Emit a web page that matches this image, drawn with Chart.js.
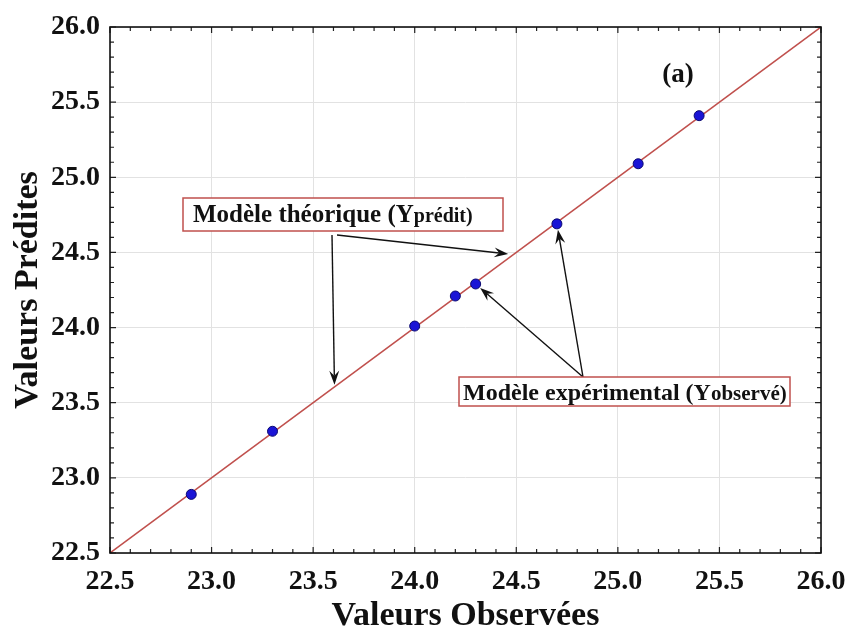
<!DOCTYPE html>
<html>
<head>
<meta charset="utf-8">
<script src="https://cdn.jsdelivr.net/npm/chart.js@4.4.1/dist/chart.umd.min.js"></script>
<style>
  html, body { margin: 0; padding: 0; background: #ffffff; }
  #wrap { width: 849px; height: 633px; }
</style>
</head>
<body>
<div id="wrap"><canvas id="c" width="849" height="633"></canvas></div>
<script>
// Observed vs predicted values
const observed  = [22.9, 23.3, 24.0, 24.2, 24.3, 24.7, 25.1, 25.4];
const predicted = [22.89, 23.31, 24.01, 24.21, 24.29, 24.69, 25.09, 25.41];

// Ideal fit line (y = x) across the axis range
const fitX = [22.5, 26.0];
const fitY = [22.5, 26.0];

// Axis range and tick spacing
const axisMin = 22.5;
const axisMax = 26.0;
const majorStep = 0.5;
const minorStep = 0.1;

const SERIF = '"Liberation Serif", "Times New Roman", serif';
const RED = '#c0504d';

const pointData = observed.map((x, i) => ({ x, y: predicted[i] }));
const lineData = fitX.map((x, i) => ({ x, y: fitY[i] }));

function arrow(ctx, x1, y1, x2, y2) {
  const ang = Math.atan2(y2 - y1, x2 - x1);
  const len = 14, half = 5, notch = 9;
  ctx.beginPath();
  ctx.moveTo(x1, y1);
  ctx.lineTo(x2 - Math.cos(ang) * notch, y2 - Math.sin(ang) * notch);
  ctx.stroke();
  const bx = x2 - Math.cos(ang) * len, by = y2 - Math.sin(ang) * len;
  const nx = -Math.sin(ang), ny = Math.cos(ang);
  ctx.beginPath();
  ctx.moveTo(x2, y2);
  ctx.lineTo(bx + nx * half, by + ny * half);
  ctx.lineTo(x2 - Math.cos(ang) * notch, y2 - Math.sin(ang) * notch);
  ctx.lineTo(bx - nx * half, by - ny * half);
  ctx.closePath();
  ctx.fill();
}

function labelBox(ctx, left, top, w, h, parts, textX, baseline) {
  ctx.save();
  ctx.fillStyle = '#ffffff';
  ctx.fillRect(left, top, w, h);
  ctx.strokeStyle = RED;
  ctx.lineWidth = 1.5;
  ctx.strokeRect(left, top, w, h);
  ctx.fillStyle = '#111111';
  ctx.textBaseline = 'alphabetic';
  ctx.textAlign = 'left';
  let x = textX;
  for (const p of parts) {
    ctx.font = 'bold ' + p.size + 'px ' + SERIF;
    ctx.fillText(p.text, x, baseline);
    x += ctx.measureText(p.text).width;
  }
  ctx.restore();
}

const annotations = {
  id: 'annotations',
  afterDatasetsDraw(chart) {
    const { ctx, scales: { x, y } } = chart;
    const px = v => x.getPixelForValue(v);
    const py = v => y.getPixelForValue(v);

    ctx.save();
    ctx.strokeStyle = '#111111';
    ctx.fillStyle = '#111111';
    ctx.lineWidth = 1.4;

    // arrows from the theoretical-model label to the fit line
    arrow(ctx, 332, 235, px(23.605), py(23.62));
    arrow(ctx, 337, 235, px(24.46), py(24.49));

    // arrows from the experimental-model label to two observed points
    const tail = { x: 583, y: 377 };
    [4, 5].forEach(i => {
      const cx = px(observed[i]), cy = py(predicted[i]);
      const dx = tail.x - cx, dy = tail.y - cy;
      const d = Math.hypot(dx, dy);
      arrow(ctx, tail.x, tail.y, cx + dx / d * 6, cy + dy / d * 6);
    });
    ctx.restore();

    labelBox(ctx, 183, 198, 320, 33,
      [{ text: 'Modèle théorique (Y', size: 25 }, { text: 'prédit)', size: 20 }],
      193, 222);
    labelBox(ctx, 459, 377, 331, 29,
      [{ text: 'Modèle expérimental (Y', size: 24 }, { text: 'observé)', size: 21 }],
      463, 400);

    ctx.save();
    ctx.font = 'bold 27px ' + SERIF;
    ctx.fillStyle = '#111111';
    ctx.textAlign = 'center';
    ctx.textBaseline = 'middle';
    ctx.fillText('(a)', 678, 75);
    ctx.restore();
  },
  afterDraw(chart) {
    const { ctx, chartArea: a, scales: { x, y } } = chart;
    ctx.save();
    ctx.strokeStyle = '#222222';
    ctx.lineWidth = 1.2;
    const n = Math.round((axisMax - axisMin) / minorStep);
    for (let i = 0; i <= n; i++) {
      const v = axisMin + i * minorStep;
      const major = i % Math.round(majorStep / minorStep) === 0;
      const len = major ? 6 : 4;
      const xp = x.getPixelForValue(v), yp = y.getPixelForValue(v);
      ctx.beginPath();
      ctx.moveTo(xp, a.bottom); ctx.lineTo(xp, a.bottom - len);
      ctx.moveTo(xp, a.top); ctx.lineTo(xp, a.top + len);
      ctx.moveTo(a.left, yp); ctx.lineTo(a.left + len, yp);
      ctx.moveTo(a.right, yp); ctx.lineTo(a.right - len, yp);
      ctx.stroke();
    }
    ctx.strokeStyle = '#111111';
    ctx.lineWidth = 1.6;
    ctx.strokeRect(a.left, a.top, a.right - a.left, a.bottom - a.top);
    ctx.restore();
  }
};

new Chart(document.getElementById('c'), {
  type: 'scatter',
  data: {
    datasets: [
      {
        type: 'line',
        data: lineData,
        borderColor: RED,
        borderWidth: 1.5,
        pointRadius: 0,
        fill: false,
        order: 2
      },
      {
        data: pointData,
        backgroundColor: '#1a14d6',
        borderColor: '#0a0870',
        borderWidth: 1,
        pointRadius: 5,
        order: 1
      }
    ]
  },
  options: {
    responsive: false,
    animation: false,
    devicePixelRatio: 1,
    layout: { padding: { top: 27, right: 28, left: 0, bottom: 0 } },
    plugins: { legend: { display: false }, tooltip: { enabled: false } },
    scales: {
      x: {
        type: 'linear',
        min: axisMin, max: axisMax,
        afterFit: s => { s.height = 80; s.paddingLeft = 0; s.paddingRight = 0; },
        ticks: {
          stepSize: majorStep,
          padding: 12,
          color: '#111111',
          font: { family: SERIF, size: 28, weight: 'bold' },
          callback: v => v.toFixed(1)
        },
        grid: { color: '#e2e2e2', lineWidth: 1, drawTicks: false },
        border: { display: false },
        title: {
          display: true,
          text: 'Valeurs Observées',
          color: '#111111',
          font: { family: SERIF, size: 34, weight: 'bold', lineHeight: 1 },
          padding: { top: 0, bottom: 0 }
        }
      },
      y: {
        type: 'linear',
        min: axisMin, max: axisMax,
        afterFit: s => { s.width = 110; s.paddingTop = 0; s.paddingBottom = 0; },
        ticks: {
          stepSize: majorStep,
          padding: 10,
          color: '#111111',
          font: { family: SERIF, size: 28, weight: 'bold' },
          callback: v => v.toFixed(1)
        },
        grid: { color: '#e2e2e2', lineWidth: 1, drawTicks: false },
        border: { display: false },
        title: {
          display: true,
          text: 'Valeurs Prédites',
          color: '#111111',
          font: { family: SERIF, size: 34, weight: 'bold', lineHeight: 1 },
          padding: { top: 11, bottom: 0 }
        }
      }
    }
  },
  plugins: [annotations]
});
</script>
</body>
</html>
